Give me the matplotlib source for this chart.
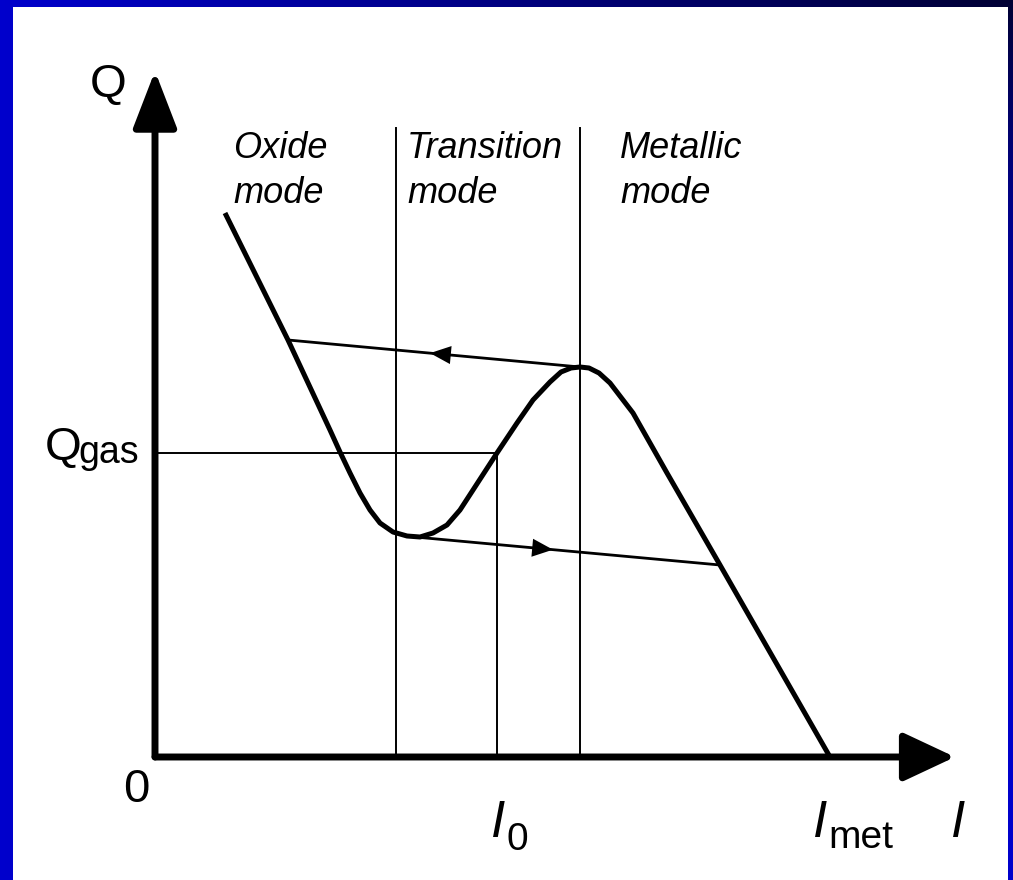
import matplotlib
matplotlib.use("Agg")
import matplotlib.pyplot as plt
import numpy as np
from matplotlib.patches import Rectangle

plt.rcParams['font.family'] = ['Liberation Sans', 'DejaVu Sans']

# Q(I) curve of reactive sputtering (hysteresis), arbitrary units
curve_I = [0.70, 1.33, 1.75, 1.85, 1.95, 2.05, 2.15, 2.25, 2.38, 2.52, 2.65, 2.78,
           2.92, 3.05, 3.18, 3.42, 3.62, 3.78, 3.95, 4.06, 4.16, 4.25, 4.34, 4.44,
           4.55, 4.78, 5.12, 5.65, 6.75]
curve_Q = [5.44, 4.17, 3.27, 3.05, 2.84, 2.64, 2.47, 2.34, 2.25, 2.21, 2.20, 2.24,
           2.32, 2.47, 2.67, 3.04, 3.34, 3.57, 3.75, 3.85, 3.89, 3.90, 3.89, 3.84,
           3.74, 3.44, 2.84, 1.92, 0.00]

# hysteresis jumps: upper goes left, lower goes right
upper_I = [4.25, 1.33]
upper_Q = [3.90, 4.17]
lower_I = [2.60, 5.65]
lower_Q = [2.20, 1.92]
upper_arrow_I = 2.75
lower_arrow_I = 3.98

# mode boundaries and operating point
mode_bounds = [2.41, 4.25]
bound_top = 6.29
I0 = 3.42
Q_gas = 3.04
I_met = 6.75

mode_names = ["Oxide", "Transition", "Metallic"]
mode_x = [0.78, 2.52, 4.65]

x_end = 8.0
y_end = 6.86

fig = plt.figure(figsize=(10.13, 8.80), dpi=100)

# blue slide background
bg = fig.add_axes([0, 0, 1, 1])
xx, yy = np.meshgrid(np.linspace(0, 1, 200), np.linspace(0, 1, 200))
shade = 1 - 0.75 * xx * yy ** 3
rgb = np.dstack([np.zeros_like(shade), np.zeros_like(shade), 0.80 * shade])
bg.imshow(rgb, extent=[0, 1, 0, 1], origin='lower', aspect='auto')
bg.add_patch(Rectangle((13 / 1013, 0), (1008 - 13) / 1013, (880 - 7) / 880,
                       facecolor='white', edgecolor='none'))
bg.set_xlim(0, 1)
bg.set_ylim(0, 1)
bg.axis('off')

ax = fig.add_axes([0, 0, 1, 1])
ax.set_xlim(-1.55, 8.58)
ax.set_ylim(-1.23, 7.57)
ax.axis('off')
ax.patch.set_alpha(0)

k = 'black'
# axes with arrows
ax.annotate('', xy=(x_end, 0), xytext=(0, 0),
            arrowprops=dict(arrowstyle='-|>,head_length=3.2,head_width=1.5',
                            color=k, lw=5, shrinkA=0, shrinkB=0))
ax.annotate('', xy=(0, y_end), xytext=(0, 0),
            arrowprops=dict(arrowstyle='-|>,head_length=3.5,head_width=1.35',
                            color=k, lw=5, shrinkA=0, shrinkB=0))

# thin guide lines
for b in mode_bounds:
    ax.plot([b, b], [0, bound_top], color=k, lw=1.4)
ax.plot([I0, I0], [0, Q_gas], color=k, lw=1.4)
ax.plot([0, I0], [Q_gas, Q_gas], color=k, lw=1.4)

# hysteresis branches
ax.plot(upper_I, upper_Q, color=k, lw=2.0)
ax.plot(lower_I, lower_Q, color=k, lw=2.0)
for xs, ys, xa in [(upper_I, upper_Q, upper_arrow_I), (lower_I, lower_Q, lower_arrow_I)]:
    slope = (ys[1] - ys[0]) / (xs[1] - xs[0])
    d = 0.1 if xs[1] > xs[0] else -0.1
    ya = ys[0] + slope * (xa - xs[0])
    ax.annotate('', xy=(xa, ya), xytext=(xa - d, ya - slope * d),
                arrowprops=dict(arrowstyle='-|>,head_length=1.5,head_width=0.65',
                                color=k, lw=0, shrinkA=0, shrinkB=0))

ax.plot(curve_I, curve_Q, color=k, lw=3.6, solid_joinstyle='round', solid_capstyle='butt')

# labels
fs = 26
for name, x in zip(mode_names, mode_x):
    ax.text(x, 5.99, name, fontsize=fs, style='italic', va='baseline', ha='left')
    ax.text(x, 5.54, 'mode', fontsize=fs, style='italic', va='baseline', ha='left')

ax.text(-0.47, 6.60, 'Q', fontsize=34, ha='center', va='baseline')
ax.text(-1.10, 2.97, 'Q', fontsize=34, ha='left', va='baseline')
ax.text(-0.77, 2.94, 'gas', fontsize=27, ha='left', va='baseline')
ax.text(-0.19, -0.45, '0', fontsize=34, ha='center', va='baseline')

ax.text(I0 - 0.06, -0.80, 'I', fontsize=37, style='italic', ha='left', va='baseline')
ax.text(I0 + 0.10, -0.93, '0', fontsize=28, ha='left', va='baseline')
ax.text(I_met - 0.17, -0.80, 'I', fontsize=37, style='italic', ha='left', va='baseline')
ax.text(I_met - 0.02, -0.91, 'met', fontsize=28, ha='left', va='baseline')
ax.text(7.96, -0.80, 'I', fontsize=37, style='italic', ha='left', va='baseline')

fig.savefig('out.png', dpi=100)
